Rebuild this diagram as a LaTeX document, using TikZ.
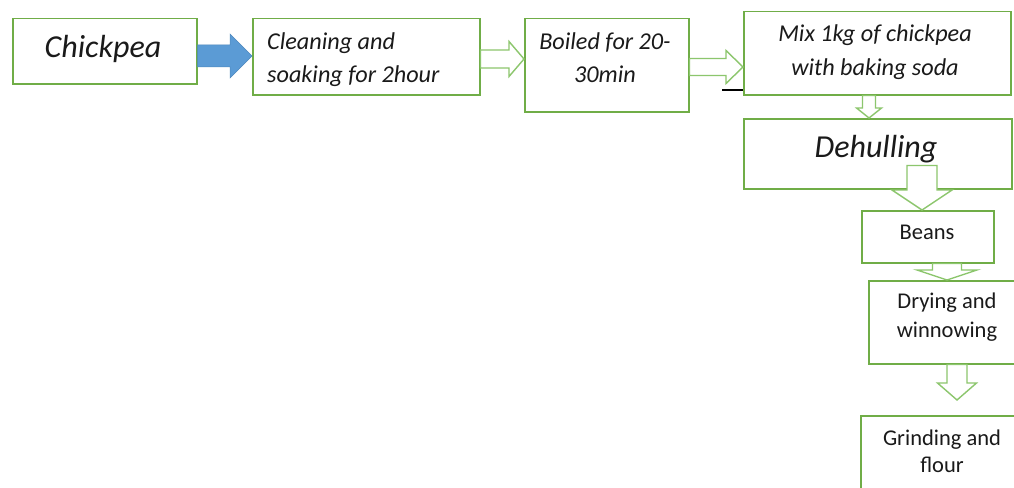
\documentclass[tikz,border=0pt]{standalone}
\usepackage{fontspec}
\setmainfont{Carlito}
\usetikzlibrary{calc}
\definecolor{boxgreen}{HTML}{70AD47}
\definecolor{arrgreen}{HTML}{8CC66D}
\definecolor{blockblue}{HTML}{5B9BD5}
\definecolor{blueedge}{HTML}{4F88BD}
\definecolor{txt}{HTML}{1A1A1A}
\newcommand\hblock[6]{%
  \draw[#1] let \p1=#2, \p2=#3 in
    (\x1,{\y1+#4}) -- ({\x2-#6},{\y1+#4}) -- ({\x2-#6},{\y1+#5}) -- (\x2,\y1)
    -- ({\x2-#6},{\y1-#5}) -- ({\x2-#6},{\y1-#4}) -- (\x1,{\y1-#4}) -- cycle;}
\newcommand\vblock[6]{%
  \draw[#1] let \p1=#2, \p2=#3 in
    ({\x1-#4},\y1) -- ({\x1-#4},{\y2+#6}) -- ({\x1-#5},{\y2+#6}) -- (\x1,\y2)
    -- ({\x1+#5},{\y2+#6}) -- ({\x1+#4},{\y2+#6}) -- ({\x1+#4},\y1) -- cycle;}
\tikzset{
  box/.style={draw=boxgreen, line width=1.5pt, fill=white, inner sep=0pt, anchor=north west},
  hollow/.style={draw=arrgreen, line width=1.4pt, fill=white, line join=miter},
  bluearrow/.style={draw=blueedge, line width=0.5pt, fill=blockblue},
  bigit/.style={font=\fontsize{32}{38}\selectfont\itshape, text=txt, inner sep=0pt},
  midit/.style={font=\fontsize{24.2}{29}\selectfont\itshape, text=txt, inner sep=0pt},
  upr/.style={font=\fontsize{22.5}{27}\selectfont, text=txt, inner sep=0pt}
}
\begin{document}
\begin{tikzpicture}[x=1pt,y=-1pt]
\useasboundingbox[fill=white] (0,0) rectangle (1014,487);
% boxes
\node[box, minimum width=184pt, minimum height=65pt] (b1) at (12,18) {};
\node[box, minimum width=227pt, minimum height=76pt] (b2) at (252,18) {};
\node[box, minimum width=164pt, minimum height=93pt] (b3) at (524,18) {};
\node[box, minimum width=267pt, minimum height=83pt] (b4) at (743,11) {};
\node[box, minimum width=268pt, minimum height=70pt] (b5) at (743,118) {};
\node[box, minimum width=132pt, minimum height=52pt] (b6) at (861,210) {};
\node[box, minimum width=160pt, minimum height=83pt] (b7) at (868,280) {};
\node[box, minimum width=160pt, minimum height=85pt] (b8) at (860,415) {};
% connectors
\coordinate (a1s) at ($(b1.north east)+(0,38)$);
\hblock{bluearrow}{(a1s)}{(b2.west |- a1s)}{11pt}{22pt}{22pt}
\coordinate (a2s) at ($(b2.north east)+(0,41)$);
\hblock{hollow}{(a2s)}{(b3.west |- a2s)}{9pt}{17.5pt}{15pt}
\coordinate (a3s) at ($(b3.north east)+(0,49)$);
\hblock{hollow}{(a3s)}{(b4.west |- a3s)}{8.5pt}{16.5pt}{17pt}
\coordinate (blk) at (722,90);
\draw[line width=1.3pt, black] (blk) -- (blk -| b4.west);
\coordinate (a4s) at ($(b4.south west)+(126,0)$);
\vblock{hollow}{(a4s)}{(a4s |- b5.north)}{6.5pt}{12.5pt}{10pt}
\coordinate (a5s) at ($(b5.south west)+(179,-24)$);
\vblock{hollow}{(a5s)}{(a5s |- b6.north)}{15pt}{30pt}{20pt}
\coordinate (a6s) at ($(b6.south west)+(86,0)$);
\vblock{hollow}{(a6s)}{(a6s |- b7.north)}{14.5pt}{30pt}{10pt}
\coordinate (a7s) at ($(b7.south west)+(89,0)$);
\coordinate (a7e) at ($(a7s |- b8.north)+(0,-15)$);
\vblock{hollow}{(a7s)}{(a7e)}{10pt}{19.5pt}{17pt}
% texts
\node[bigit, anchor=base] (t1) at (103,57) {Chickpea};
\node[midit, anchor=base west] (t2a) at (267,49) {Cleaning and};
\node[midit, anchor=base west] (t2b) at (267,82) {soaking for 2hour};
\node[midit, anchor=base] (t3a) at (605,49) {Boiled for 20-};
\node[midit, anchor=base] (t3b) at (605,82) {30min};
\node[midit, anchor=base] (t4a) at (875,42) {Mix 1kg of chickpea};
\node[midit, anchor=base] (t4b) at (875,75) {with baking soda};
\node[bigit, anchor=base] (t5) at (876,157) {Dehulling};
\node[upr, anchor=base] (t6) at (927,239) {Beans};
\node[upr, anchor=base] (t7a) at (947,308) {Drying and};
\node[upr, anchor=base] (t7b) at (947,337) {winnowing};
\node[upr, anchor=base] (t8a) at (942,445) {Grinding and};
\node[upr, anchor=base] (t8b) at (942,472) {flour};
\end{tikzpicture}
\end{document}
